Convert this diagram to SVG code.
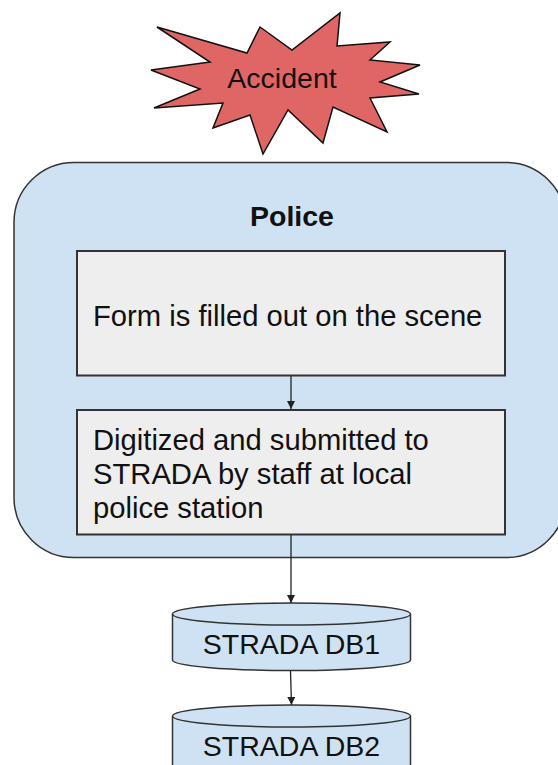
<svg xmlns="http://www.w3.org/2000/svg" width="558" height="765" viewBox="0 0 558 765">
<defs>
<style>
text{font-family:"Liberation Sans",Arial,sans-serif;fill:#111}
.t{font-size:28.5px}
.b{font-size:29.2px}
.box{fill:#eeeeee;stroke:#333333;stroke-width:2}
.cyl{fill:#cfe2f3;stroke:#333333;stroke-width:1.5}
.conn{stroke:#222;stroke-width:1.3;fill:none;marker-end:url(#ah)}
</style>
<marker id="ah" viewBox="0 0 10 10" refX="10" refY="5" markerWidth="8" markerHeight="8" markerUnits="userSpaceOnUse" orient="auto">
<path d="M0,0 L10,5 L0,10 Z" fill="#222"/>
</marker>
</defs>
<rect width="558" height="765" fill="#ffffff"/>
<g id="accident">
<polygon points="157,27 247,53 260,27 292,50 340,13 337,46 390,42 370,60 420,65 380,82 419,94 370,98 387,132 333,107 323,143 288,110 263,154 250,115 213,128 223,103 154,108 200,89 151,70 210,62" fill="#e06666" stroke="#111" stroke-width="1.5" stroke-linejoin="miter"/>
<text class="t" x="282" y="88" text-anchor="middle">Accident</text>
</g>
<g id="police">
<rect x="14" y="162.5" width="552" height="395" rx="60" ry="60" fill="#cfe2f3" stroke="#333333" stroke-width="1.5"/>
<text x="292" y="226" text-anchor="middle" font-size="28.5" font-weight="bold">Police</text>
</g>
<g id="form">
<rect class="box" x="77" y="251" width="428" height="124.5"/>
<text class="b" x="93" y="326">Form is filled out on the scene</text>
</g>
<g id="digitized">
<rect class="box" x="77" y="410" width="428" height="124.5"/>
<text class="b" x="93" y="450">Digitized and submitted to</text>
<text class="b" x="93" y="484">STRADA by staff at local</text>
<text class="b" x="93" y="518">police station</text>
</g>
<g id="db1">
<path class="cyl" d="M172.5,614 A119,11 0 0 1 410.5,614 L410.5,660 A119,10.5 0 0 1 172.5,660 Z"/>
<path class="cyl" fill="none" d="M172.5,614 A119,11 0 0 0 410.5,614"/>
<text class="t" x="291.5" y="654" text-anchor="middle">STRADA DB1</text>
</g>
<g id="db2">
<path class="cyl" d="M172.5,716 A119,11 0 0 1 410.5,716 L410.5,800 L172.5,800 Z"/>
<path class="cyl" fill="none" d="M172.5,716 A119,11 0 0 0 410.5,716"/>
<text class="t" x="291.5" y="756" text-anchor="middle">STRADA DB2</text>
</g>
<g id="connectors">
<line class="conn" x1="291" y1="376" x2="291" y2="409"/>
<line class="conn" x1="291" y1="535" x2="291" y2="603"/>
<line class="conn" x1="290.5" y1="671" x2="291.5" y2="705"/>
</g>
</svg>
